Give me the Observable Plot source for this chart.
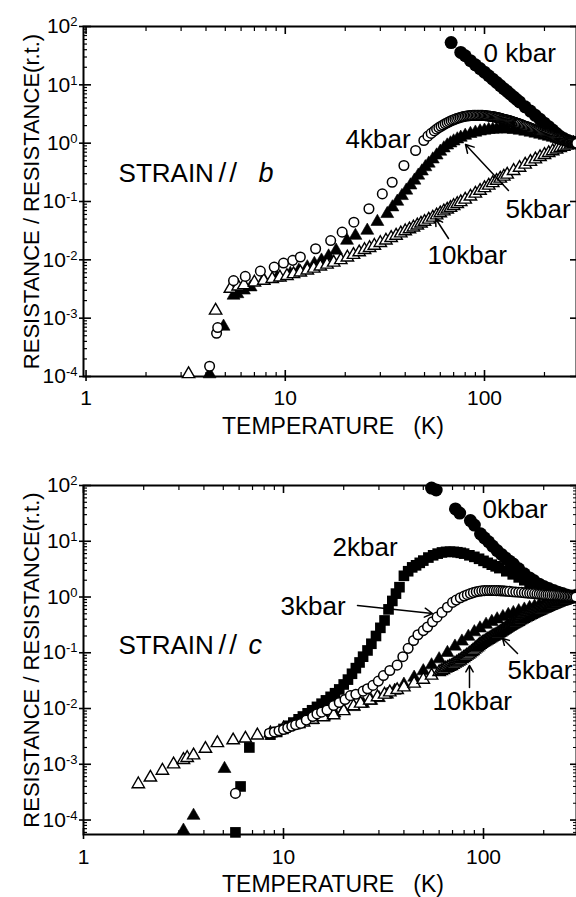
<!DOCTYPE html>
<html><head><meta charset="utf-8">
<script src="https://cdn.jsdelivr.net/npm/d3@7"></script>
<script src="https://cdn.jsdelivr.net/npm/@observablehq/plot@0.6"></script>
<style>
body{margin:0;background:#fff;}
#chart{width:576px;height:897px;position:relative;overflow:hidden;background:#fff;}
#chart svg{display:block;}
</style></head><body><div id="chart"></div>
<script>
// ---------- Panel (b): STRAIN // b ----------
const b0T = [68, 76, 80, 85, 90, 95, 100, 105, 110, 115, 120, 125, 130, 135, 140, 145, 150, 160, 170, 180, 190, 200, 210, 220, 230, 240, 250, 260, 270, 280, 290];
const b0R = [53, 36, 31.5, 26, 22, 19, 16.5, 14.3, 12.5, 11, 9.7, 8.6, 7.7, 6.9, 6.2, 5.6, 5.1, 4.2, 3.55, 3.0, 2.56, 2.2, 1.92, 1.68, 1.46, 1.3, 1.2, 1.12, 1.07, 1.03, 1.0];

const b4T = [4.17, 4.52, 4.58, 5.5, 6.3, 7.5, 8.8, 9.8, 10.9, 11.9, 14.2, 16.9, 19.3, 22.1, 26.3, 30.7, 34.4, 39.4, 45.1, 49.6, 52, 54,
  56, 57.5, 59, 60.5, 62, 63.5, 65, 66.5, 68, 69.5,
  71, 72.5, 74, 75.5, 77, 78.5, 80, 81.5, 83, 84.5,
  86, 87.5, 89, 90.5, 92, 93.5, 95, 96.5, 98, 99.5,
  101, 102.5, 104, 105.5, 107, 108.5, 110, 111.5, 113, 114.5,
  116, 117.5, 119, 120.5, 122, 123.5, 125, 126.5, 128, 129.5,
  131, 132.5, 134, 135.5, 137, 138.5, 140, 141.5, 143, 144.5,
  146, 147.5, 149, 150.5,
  153, 155.5, 158, 160.5, 163, 165.5, 168, 170.5, 173, 175.5,
  178, 180.5, 183, 185.5, 188, 190.5, 193, 195.5, 198, 200.5,
  203, 205.5, 208, 210.5, 213, 215.5, 218, 220.5, 223, 225.5,
  228, 230.5, 233, 235.5, 238, 240.5, 243, 245.5, 248, 250.5,
  253, 255.5, 258, 260.5, 263, 265.5, 268, 270.5, 273, 275.5,
  278, 280.5, 283, 285.5, 288, 290.5];
const b4R = [1.5e-4, 5.5e-4, 6.9e-4, 4.4e-3, 5.2e-3, 6.4e-3, 7.5e-3, 8.8e-3, 9.8e-3, 0.0112, 0.0155, 0.0214, 0.0298, 0.0442, 0.075, 0.135, 0.214, 0.414, 0.748, 1.11, 1.32, 1.47,
  1.62, 1.74, 1.85, 1.95, 2.05, 2.15, 2.24, 2.33, 2.42, 2.5,
  2.57, 2.63, 2.7, 2.76, 2.81, 2.86, 2.9, 2.92, 2.95, 2.97,
  2.98, 2.99, 3.0, 3.0, 3.0, 3.0, 3.0, 3.0, 2.99, 2.98,
  2.97, 2.95, 2.93, 2.91, 2.89, 2.87, 2.85, 2.83, 2.8, 2.77,
  2.75, 2.72, 2.69, 2.66, 2.63, 2.6, 2.57, 2.55, 2.52, 2.49,
  2.47, 2.44, 2.41, 2.39, 2.36, 2.33, 2.3, 2.28, 2.25, 2.22,
  2.2, 2.17, 2.14, 2.12,
  2.08, 2.04, 1.99, 1.95, 1.92, 1.88, 1.85, 1.81, 1.78, 1.74,
  1.71, 1.68, 1.65, 1.62, 1.59, 1.56, 1.53, 1.51, 1.48, 1.45,
  1.44, 1.42, 1.4, 1.38, 1.36, 1.34, 1.32, 1.3, 1.28, 1.26,
  1.24, 1.23, 1.21, 1.2, 1.18, 1.17, 1.16, 1.14, 1.13, 1.12,
  1.11, 1.1, 1.08, 1.07, 1.06, 1.05, 1.05, 1.04, 1.03, 1.03,
  1.02, 1.02, 1.01, 1.01, 1.0, 1.0];

const b5T = [4.17, 4.9, 5.5, 5.75, 6.2, 6.7, 7.8, 9.1, 10.6, 11.7, 12.9, 14, 15.2, 16.5, 18, 20.4, 22.5, 25.8, 29, 32.5, 34.5, 36.5, 38.5, 40.5, 42.5, 44.5, 46.5, 48.5, 50.5, 52.5, 55, 57.5, 60, 62.5, 65, 67.5, 70, 73, 76, 80, 85, 90, 95, 100, 105, 110, 115, 120, 125, 130, 140, 150, 160, 170, 180, 190, 200, 210, 220, 230, 240, 250, 260, 270, 280, 290];
const b5R = [1.1e-4, 7.2e-4, 2.45e-3, 2.6e-3, 3.0e-3, 3.4e-3, 4.6e-3, 5.0e-3, 5.8e-3, 6.6e-3, 7.5e-3, 8.6e-3, 0.0098, 0.0115, 0.0145, 0.0214, 0.026, 0.0318, 0.045, 0.0615, 0.08, 0.1, 0.125, 0.155, 0.19, 0.23, 0.28, 0.33, 0.39, 0.45, 0.53, 0.62, 0.72, 0.82, 0.92, 1.0, 1.08, 1.17, 1.25, 1.35, 1.45, 1.53, 1.6, 1.65, 1.7, 1.72, 1.74, 1.75, 1.75, 1.74, 1.7, 1.65, 1.59, 1.53, 1.47, 1.41, 1.35, 1.3, 1.25, 1.2, 1.15, 1.11, 1.07, 1.04, 1.02, 1.0];

const b10T = [3.27, 4.47, 5.3, 5.8, 6.2, 7.0, 7.8, 8.6, 9.4, 10.2, 11.0, 11.9, 12.9, 13.9, 15, 16.2, 17.5, 19, 20.5, 22, 23.5, 25, 26.5, 28, 30, 32, 34, 36, 38, 40, 42, 44, 46, 48, 50, 52.5, 55, 57.5, 60, 62.5, 65, 67.5, 70, 73, 76, 80, 85, 90, 95, 100, 105, 110, 115, 120, 125, 130, 140, 150, 160, 170, 180, 190, 200, 210, 220, 230, 240, 250, 260, 270, 280, 290];
const b10R = [1.1e-4, 1.35e-3, 3.2e-3, 3.5e-3, 3.7e-3, 4.1e-3, 4.4e-3, 4.7e-3, 5.0e-3, 5.3e-3, 5.7e-3, 6.1e-3, 6.6e-3, 7.1e-3, 7.7e-3, 8.3e-3, 9.0e-3, 0.0099, 0.011, 0.0122, 0.0135, 0.0148, 0.016, 0.0175, 0.0195, 0.0215, 0.0238, 0.026, 0.0285, 0.031, 0.0335, 0.036, 0.039, 0.042, 0.045, 0.049, 0.053, 0.058, 0.063, 0.068, 0.073, 0.078, 0.084, 0.091, 0.098, 0.108, 0.122, 0.137, 0.153, 0.17, 0.188, 0.207, 0.227, 0.247, 0.268, 0.29, 0.335, 0.38, 0.43, 0.48, 0.53, 0.58, 0.63, 0.68, 0.73, 0.78, 0.83, 0.87, 0.91, 0.95, 0.98, 1.0];

const bLabelText = ["0 kbar", "4kbar", "5kbar", "10kbar"];
const bLabelT = [98.9, 20.06, 127.5, 51.7];
const bLabelR = [25.1, 0.842, 0.0521, 0.00865];
const bStrain = ["STRAIN", "//", "b"];
const bStrainT = [1.456, 4.62, 7.34];
const bStrainR = [0.212, 0.212, 0.212];
const bArrowT1 = [131.9, 65.97], bArrowR1 = [0.1543, 0.02319];
const bArrowT2 = [80.3, 56.76],  bArrowR2 = [0.948, 0.0511];

// ---------- Panel (c): STRAIN // c ----------
const c0T = [55, 58, 72.4, 76, 86, 90, 96.6, 101, 106, 111, 117, 123, 129, 135, 141, 150, 160, 170, 178, 190, 200, 212, 224, 236, 248, 260, 272, 282, 290];
const c0R = [90, 83, 38, 32, 23.5, 19.5, 13.6, 11.5, 9.8, 8.2, 6.8, 5.8, 5.0, 4.4, 3.9, 3.2, 2.6, 2.2, 1.98, 1.7, 1.55, 1.42, 1.31, 1.22, 1.15, 1.09, 1.04, 1.02, 1.0];

const c2T = [5.75, 6.1, 6.75, 8.6, 9.3, 10, 10.6, 11.2, 11.9, 12.5, 13.2, 13.9, 14.7, 15.5, 16.3, 17.2, 18.1, 19, 20, 21, 22, 23, 24, 25, 26.3, 27.5, 29, 30.5, 32, 33.5, 35, 36.5, 38, 40, 42, 44, 46, 48, 50, 53, 56, 59, 62, 65, 68, 71, 74, 77, 80, 85, 90, 95, 100, 105, 110, 115, 120, 130, 140, 150, 160, 170, 180, 190, 200, 210, 220, 230, 240, 250, 260, 270, 280, 290];
const c2R = [6e-5, 4e-4, 2e-3, 3.4e-3, 3.8e-3, 4.3e-3, 4.9e-3, 5.6e-3, 6.4e-3, 7.2e-3, 8.2e-3, 9.3e-3, 0.0107, 0.0122, 0.014, 0.0162, 0.0188, 0.022, 0.027, 0.033, 0.042, 0.053, 0.067, 0.085, 0.11, 0.145, 0.2, 0.28, 0.38, 0.6, 0.85, 1.15, 1.5, 2.4, 2.9, 3.4, 3.7, 4.1, 4.5, 5.1, 5.6, 6.0, 6.3, 6.45, 6.5, 6.45, 6.35, 6.2, 6.0, 5.6, 5.25, 4.85, 4.45, 4.1, 3.8, 3.55, 3.3, 2.9, 2.55, 2.25, 2.0, 1.8, 1.62, 1.48, 1.37, 1.28, 1.21, 1.15, 1.1, 1.07, 1.04, 1.02, 1.01, 1.0];

const c3T = [5.75, 8.5, 9, 9.5, 10, 10.5, 11, 11.5, 12.2, 13, 14, 14.7, 15.5, 16.5, 17.8, 19, 20.3, 21.6, 23, 25, 26.3, 28, 29.8, 31.6, 34, 37, 39.5, 42, 44.7, 47, 50, 52.5, 55.6, 58.6, 62, 66, 70, 73,
  76.6, 80, 83, 86, 89, 92, 95, 98, 101, 104, 107, 110, 113, 116, 119, 122, 125, 128, 131, 135,
  140, 145, 150, 155, 160, 165, 170, 175, 180, 185, 190, 195, 200, 205, 210, 215, 220, 225, 230, 235,
  240, 245, 250, 255, 260, 265, 270, 275, 280, 285, 290];
const c3R = [3e-4, 3.6e-3, 3.8e-3, 4.0e-3, 4.2e-3, 4.5e-3, 4.8e-3, 5.1e-3, 5.4e-3, 6.2e-3, 7.2e-3, 8.0e-3, 8.6e-3, 9.4e-3, 0.0113, 0.0128, 0.0145, 0.017, 0.018, 0.0205, 0.0226, 0.026, 0.031, 0.039, 0.048, 0.06, 0.085, 0.12, 0.166, 0.21, 0.25, 0.29, 0.36, 0.435, 0.53, 0.656, 0.8, 0.88,
  0.97, 1.04, 1.1, 1.15, 1.2, 1.24, 1.27, 1.29, 1.3, 1.31, 1.31, 1.31, 1.31, 1.3, 1.3, 1.29, 1.29, 1.28, 1.27, 1.26,
  1.24, 1.23, 1.22, 1.21, 1.19, 1.18, 1.17, 1.16, 1.15, 1.14, 1.13, 1.12, 1.11, 1.1, 1.1, 1.09, 1.08, 1.08, 1.07, 1.06,
  1.06, 1.05, 1.04, 1.04, 1.03, 1.02, 1.02, 1.01, 1.01, 1.0, 1.0];

const c5T = [3.16, 3.55, 5.07, 12, 14, 16, 18, 20, 22.5, 25, 27.5, 30, 33, 36, 40, 45, 50, 55, 60, 66, 72, 78, 84, 90, 96, 103, 110, 117, 125, 133, 141, 150, 160, 170, 180, 190, 200, 210, 220, 230, 240, 250, 260, 270, 280, 290];
const c5R = [6.5e-5, 1.2e-4, 8.3e-4, 5.2e-3, 6.2e-3, 7.2e-3, 8.2e-3, 9.3e-3, 0.0107, 0.0122, 0.0138, 0.0155, 0.0178, 0.021, 0.027, 0.036, 0.047, 0.06, 0.077, 0.1, 0.13, 0.16, 0.195, 0.235, 0.275, 0.32, 0.36, 0.4, 0.44, 0.48, 0.52, 0.56, 0.6, 0.64, 0.68, 0.72, 0.75, 0.78, 0.81, 0.84, 0.87, 0.9, 0.93, 0.96, 0.98, 1.0];

const c10T = [1.88, 2.16, 2.48, 2.82, 3.16, 3.3, 3.55, 4.07, 4.67, 5.6, 6.45, 7.4, 8.6, 10, 11.2, 12.6, 14, 15.8, 17.8, 20, 22.4, 24.3, 27, 29.5, 32, 34, 37, 40, 45, 50, 55,
  60, 61.5, 63, 64.5, 66, 67.5, 69, 70.5, 72, 73.5,
  75, 76.5, 78, 79.5, 81, 82.5, 84, 85.5, 87, 88.5,
  90, 91.5, 93, 94.5, 96, 97.5, 99, 100.5, 102, 103.5,
  105, 106.5, 108, 109.5, 111, 112.5, 114, 115.5, 117, 118.5,
  120, 121.5, 123, 124.5, 126, 127.5, 129, 130.5, 132, 133.5,
  135, 136.5, 138, 139.5, 141, 142.5, 144, 145.5, 147, 148.5,
  150, 152.5, 155, 157.5, 160, 162.5, 165, 167.5, 170, 172.5,
  175, 177.5, 180, 182.5, 185, 187.5, 190, 192.5, 195, 197.5,
  200, 202.5, 205, 207.5, 210, 212.5, 215, 217.5, 220, 222.5,
  225, 227.5, 230, 232.5, 235, 237.5, 240, 242.5, 245, 247.5,
  250, 252.5, 255, 257.5, 260, 262.5, 265, 267.5, 270, 272.5,
  275, 277.5, 280, 282.5, 285, 287.5, 290];
const c10R = [4.4e-4, 5.8e-4, 7.7e-4, 1.0e-3, 1.2e-3, 1.3e-3, 1.45e-3, 1.9e-3, 2.4e-3, 2.7e-3, 2.9e-3, 3.3e-3, 3.6e-3, 4.4e-3, 5.0e-3, 5.6e-3, 6.3e-3, 7.0e-3, 7.6e-3, 9e-3, 0.011, 0.0123, 0.014, 0.016, 0.0178, 0.0195, 0.0215, 0.024, 0.028, 0.033, 0.039,
  0.045, 0.047, 0.049, 0.052, 0.054, 0.056, 0.058, 0.061, 0.064, 0.067,
  0.07, 0.073, 0.077, 0.081, 0.085, 0.089, 0.093, 0.098, 0.103, 0.108,
  0.114, 0.12, 0.126, 0.133, 0.14, 0.145, 0.151, 0.156, 0.161, 0.166,
  0.172, 0.177, 0.183, 0.188, 0.194, 0.199, 0.204, 0.209, 0.215, 0.221,
  0.228, 0.234, 0.241, 0.248, 0.255, 0.262, 0.27, 0.277, 0.285, 0.292,
  0.3, 0.307, 0.315, 0.322, 0.33, 0.336, 0.342, 0.348, 0.355, 0.362,
  0.37, 0.382, 0.395, 0.407, 0.42, 0.432, 0.445, 0.457, 0.47, 0.482,
  0.495, 0.507, 0.52, 0.532, 0.545, 0.557, 0.57, 0.582, 0.595, 0.607,
  0.62, 0.632, 0.645, 0.657, 0.67, 0.682, 0.695, 0.707, 0.72, 0.732,
  0.745, 0.757, 0.77, 0.782, 0.795, 0.807, 0.82, 0.83, 0.84, 0.85,
  0.86, 0.87, 0.88, 0.89, 0.9, 0.91, 0.92, 0.93, 0.94, 0.947,
  0.955, 0.962, 0.97, 0.977, 0.985, 0.992, 1.0];

const cLabelText = ["0kbar", "2kbar", "3kbar", "5kbar", "10kbar"];
const cLabelT = [98.9, 17.58, 9.66, 131.8, 55.6];
const cLabelR = [25.6, 5.33, 0.485, 0.0345, 0.0096];
const cStrain = ["STRAIN", "//", "c"];
const cStrainT = [1.496, 4.73, 6.68];
const cStrainR = [0.0969, 0.0969, 0.0969];
const cArrowT1 = [23.44, 147.9, 85.1], cArrowR1 = [0.704, 0.0969, 0.0238];
const cArrowT2 = [55.6, 124.5, 85.1],  cArrowR2 = [0.506, 0.180, 0.0591];

const xTitle = "TEMPERATURE   (K)";
const yTitle = "RESISTANCE / RESISTANCE(r.t.)";

// ---------- helpers ----------
const W = 576;
const FONT = "'Liberation Sans', Arial, Helvetica, sans-serif";
const zip = (T, R) => T.map((t, i) => ({T: t, R: R[i]}));
const rows = (text, T, R) => text.map((s, i) => ({label: s, T: T[i], R: R[i]}));
const arrowRows = (T1, R1, T2, R2) => T1.map((t, i) => ({T1: t, R1: R1[i], T2: T2[i], R2: R2[i]}));

function decadeTicks(lo, hi) {
  const major = [], minor = [];
  for (let e = Math.floor(Math.log10(lo)); e <= Math.ceil(Math.log10(hi)); e++) {
    const p = Math.pow(10, e);
    if (p >= lo * 0.999 && p <= hi * 1.001) major.push(p);
    for (let k = 2; k <= 9; k++) { const v = k * p; if (v >= lo && v <= hi) minor.push(v); }
  }
  return {major, minor};
}

const ST = {
  filledCircle: {r: 6.5, fill: "black", stroke: "none"},
  openCircle: {r: 4.8, fill: "white", stroke: "black", strokeWidth: 1.5},
  filledTri: {symbol: "triangle", r: 4.8, fill: "black", stroke: "black", strokeWidth: 0.6},
  openTri: {symbol: "triangle", r: 4.6, fill: "white", stroke: "black", strokeWidth: 1.4},
  filledSquare: {symbol: "square", r: 6.0, fill: "black", stroke: "none"}
};

function panel(o) {
  const ml = 83, mr = 0;
  const pw = W - ml - mr;
  const ph = o.height - o.mt - o.mb;
  const xt = decadeTicks(o.xDomain[0], o.xDomain[1]);
  const yt = decadeTicks(o.yDomain[0], o.yDomain[1]);
  const marks = [
    Plot.frame({stroke: "black", strokeWidth: 2}),
    Plot.tickY(yt.minor, {y: d => d, insetRight: pw - 4, strokeWidth: 1.2}),
    Plot.tickY(yt.major, {y: d => d, insetLeft: -4, insetRight: pw - 8, strokeWidth: 1.6}),
    Plot.tickY(yt.major, {y: d => d, insetLeft: pw - 6, strokeWidth: 1.6}),
    Plot.tickX(xt.minor, {x: d => d, insetBottom: ph - 5, strokeWidth: 1.2}),
    Plot.tickX(xt.major, {x: d => d, insetBottom: ph - 8, strokeWidth: 1.6}),
    Plot.tickX(xt.minor, {x: d => d, insetTop: ph - 4, strokeWidth: 1.2}),
    Plot.tickX(xt.major, {x: d => d, insetTop: ph - 6, insetBottom: -5, strokeWidth: 1.6}),
    Plot.axisY({ticks: yt.major, tickSize: 0, tickPadding: 6, fontSize: 21,
      tickFormat: d => "10^" + Math.round(Math.log10(d)), label: null}),
    Plot.axisX({ticks: xt.major, tickSize: 0, tickPadding: o.xPad, fontSize: 21,
      tickFormat: d => String(d), label: null})
  ];
  if (o.rightMinor) marks.push(Plot.tickY(yt.minor, {y: d => d, insetLeft: pw - 3, strokeWidth: 1}));
  for (const s of o.series) marks.push(Plot.dot(zip(s.T, s.R), {x: "T", y: "R", ...s.style}));
  const st = rows(o.strain.text, o.strain.T, o.strain.R);
  marks.push(
    Plot.text(rows(o.labels.text, o.labels.T, o.labels.R), {x: "T", y: "R", text: "label",
      textAnchor: "start", lineAnchor: "bottom", fontSize: 26, fill: "black"}),
    Plot.text(st.slice(0, 1), {x: "T", y: "R", text: "label",
      textAnchor: "start", lineAnchor: "bottom", fontSize: 26, fill: "black"}),
    Plot.text(st.slice(1, 2), {x: "T", y: "R", text: "label",
      textAnchor: "start", lineAnchor: "bottom", fontSize: 28, fill: "black"}),
    Plot.text(st.slice(2), {x: "T", y: "R", text: "label",
      textAnchor: "start", lineAnchor: "bottom", fontSize: 27, fontStyle: "italic", fill: "black"}),
    Plot.arrow(arrowRows(o.arrows.T1, o.arrows.R1, o.arrows.T2, o.arrows.R2),
      {x1: "T1", y1: "R1", x2: "T2", y2: "R2", stroke: "black", strokeWidth: 1.5, headLength: 9}),
    Plot.text([xTitle], {frameAnchor: "bottom", dy: o.titleDy, dx: 3, textAnchor: "middle", lineAnchor: "bottom", fontSize: 23, fill: "black"}),
    Plot.text([yTitle], {frameAnchor: "left", dx: -52, rotate: -90, textAnchor: "middle", lineAnchor: "middle", fontSize: 22, fill: "black"})
  );
  const svg = Plot.plot({
    width: W, height: o.height,
    marginTop: o.mt, marginBottom: o.mb, marginLeft: ml, marginRight: mr,
    x: {type: "log", domain: o.xDomain, label: null},
    y: {type: "log", domain: o.yDomain, label: null},
    style: {fontFamily: FONT, color: "black", background: "white"},
    marks
  });
  svg.querySelectorAll("text").forEach(t => {
    if (t.children.length) return;
    const s = t.textContent;
    if (s.includes("^")) {
      const [base, exp] = s.split("^");
      t.textContent = base;
      const ts = document.createElementNS("http://www.w3.org/2000/svg", "tspan");
      ts.setAttribute("dy", "-7");
      ts.setAttribute("font-size", "13");
      ts.textContent = exp;
      t.appendChild(ts);
    } else if (s === "//") {
      t.setAttribute("letter-spacing", "3");
    }
  });
  return svg;
}

const chart = document.getElementById("chart");
chart.appendChild(panel({
  height: 450, mt: 26, mb: 74, xPad: 14, titleDy: 57,
  xDomain: [0.971, 289.6], yDomain: [1e-4, 100],
  series: [
    {T: b0T, R: b0R, style: ST.filledCircle},
    {T: b5T, R: b5R, style: ST.filledTri},
    {T: b10T, R: b10R, style: ST.openTri},
    {T: b4T, R: b4R, style: ST.openCircle}
  ],
  labels: {text: bLabelText, T: bLabelT, R: bLabelR},
  strain: {text: bStrain, T: bStrainT, R: bStrainR},
  arrows: {T1: bArrowT1, R1: bArrowR1, T2: bArrowT2, R2: bArrowR2},
  rightMinor: false
}));
chart.appendChild(panel({
  height: 447, mt: 35, mb: 63, xPad: 15, titleDy: 57,
  xDomain: [1, 291.7], yDomain: [5.5e-5, 100],
  series: [
    {T: c5T, R: c5R, style: ST.filledTri},
    {T: c10T, R: c10R, style: ST.openTri},
    {T: c0T, R: c0R, style: ST.filledCircle},
    {T: c2T, R: c2R, style: ST.filledSquare},
    {T: c3T, R: c3R, style: ST.openCircle}
  ],
  labels: {text: cLabelText, T: cLabelT, R: cLabelR},
  strain: {text: cStrain, T: cStrainT, R: cStrainR},
  arrows: {T1: cArrowT1, R1: cArrowR1, T2: cArrowT2, R2: cArrowR2},
  rightMinor: true
}));
</script></body></html>
